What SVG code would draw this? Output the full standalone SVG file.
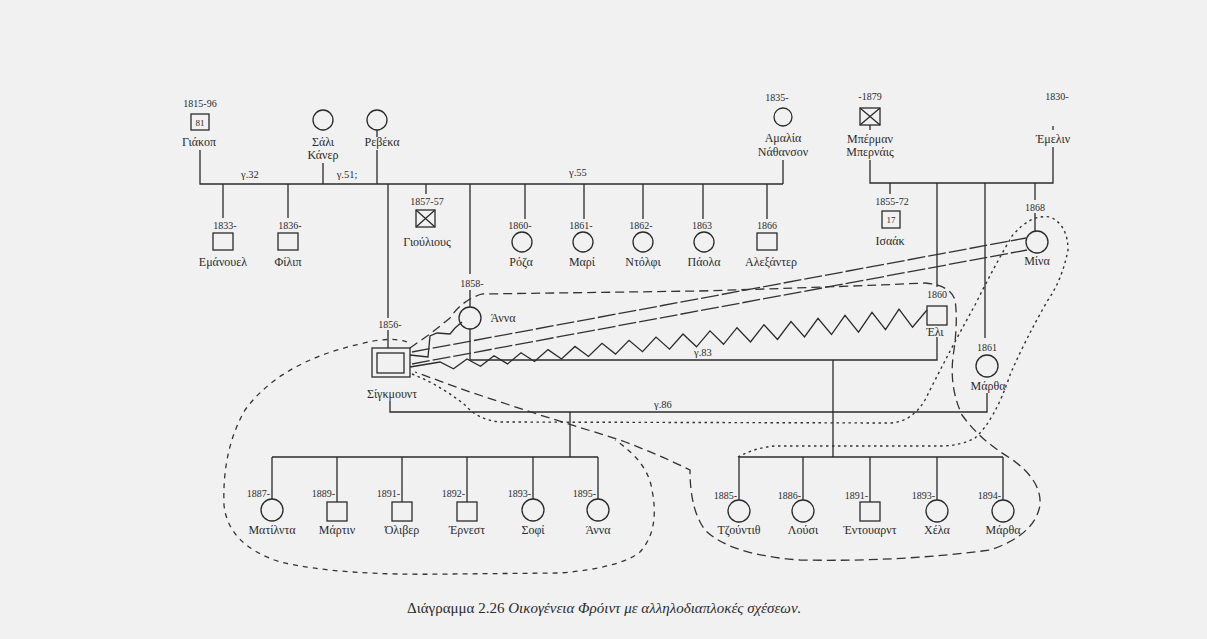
<svg xmlns="http://www.w3.org/2000/svg" width="1207" height="639" viewBox="0 0 1207 639">
<style>
.ln{stroke:#2b2b2b;stroke-width:1.3;fill:none}
.sh{stroke:#2b2b2b;stroke-width:1.3;fill:none}
.t{font-family:"Liberation Serif","DejaVu Serif",serif;font-size:12px;fill:#2b2b2b;text-anchor:middle}
.d{font-family:"Liberation Serif","DejaVu Serif",serif;font-size:10px;fill:#2b2b2b;text-anchor:middle}
.de{font-family:"Liberation Serif","DejaVu Serif",serif;font-size:10px;fill:#2b2b2b;text-anchor:end}
.g{font-family:"Liberation Serif","DejaVu Serif",serif;font-size:10.5px;fill:#2b2b2b;text-anchor:middle}
.dash{stroke:#333;stroke-width:1.3;fill:none;stroke-dasharray:9 5}
.dash2{stroke:#333;stroke-width:1.3;fill:none;stroke-dasharray:5 5}
.dot{stroke:#333;stroke-width:1.4;fill:none;stroke-dasharray:2.5 3.5}
.dbl{stroke:#333;stroke-width:1.3;fill:none;stroke-dasharray:18 3}
</style>
<rect width="1207" height="639" fill="#f1f1f1"/>

<g id="connectors">
<path class="ln" d="M200,150V184H783M323,163V184M377,130V137M377,150V184M783,160V184"/>
<path class="ln" d="M223,184V218M288,184V218M388,184V318M388,330V348M426,184V194M470,184V274M470,290V307M525,184V219M584,184V219M643,184V219M703,184V219M767,184V219"/>
<path class="ln" d="M870,160V183H1053V147M1053,126V130M870,125V130M890,183V194M937,183V287M985,183V338M1035,183V200M1035,213V231"/>
<path class="ln" d="M470,329V360H937V337M833,360V457M739,457H1003M739,457V500M803,457V500M870,457V502M937,457V500M1003,457V500"/>
<path class="ln" d="M390,401V412H987V393M570,412V457M272,457H598M272,457V499M337,457V502M402,457V502M467,457V502M533,457V499M598,457V499"/>
<polyline class="ln" points="410,355 428,357 430,336 437,333 450,334 455,328 462,322"/>
<polyline class="ln" points="410,367 440,362 453.5,368.8 467,358.9 480.5,366.3 494,355.8 507.5,363.9 521,352.7 534.5,361.5 548,349.6 561.5,359 575,346.4 588.5,356.5 602,343.3 615.5,354.1 629,340.3 642.5,351.7 656,337.1 669.5,349.2 683,334 696.5,346.8 710,330.9 723.5,344.3 737,327.7 750.5,341.9 764,324.7 777.5,339.5 791,321.6 804.5,337 818,318.4 831.5,334.5 845,315.3 858.5,332.1 872,312.3 885.5,329.7 899,309.1 912.5,327.2 927,310"/>
<line class="dbl" x1="412" y1="352" x2="1026" y2="238"/>
<line class="dbl" x1="412" y1="364" x2="1027" y2="250"/>
<path class="dash" d="M410,348 L430,334 L450,318 Q462,300 482,294 L700,291 Q800,288 880,285 L925,283 Q950,285 955,300 Q958,320 954,350 Q948,385 962,415 Q980,440 1010,458 Q1042,480 1040,505 Q1035,535 990,550 Q900,562 800,560 Q730,555 705,530 Q690,510 690,470 Q660,455 620,440 L540,415 L470,392 L415,372"/>
<path class="dash2" d="M407,342 Q390,336 360,344 Q280,362 245,410 Q222,450 224,505 Q228,545 280,562 Q340,576 450,574 L560,573 Q620,568 640,552 Q660,530 652,490 Q648,462 615,440"/>
<path class="dot" d="M412,374 Q440,385 465,405 Q478,420 500,422 L890,423 Q912,422 925,400 Q950,350 975,305 Q995,265 1012,236 Q1030,214 1050,217 Q1068,225 1068,250 Q1062,280 1048,300 Q1025,340 1010,375 Q995,420 975,438 Q960,446 940,446 L775,446 Q752,448 735,459"/>
</g>

<g id="marriage-labels">
<text class="g" x="250" y="178">γ.32</text>
<text class="g" x="347" y="178">γ.51;</text>
<text class="g" x="578" y="176">γ.55</text>
<text class="g" x="703" y="356">γ.83</text>
<text class="g" x="663" y="408">γ.86</text>
</g>

<g id="jacob"><text class="d" x="200" y="107">1815-96</text><rect class="sh" x="191" y="114" width="18" height="16"/><text class="d" x="200" y="126" style="font-size:9px">81</text><text class="t" x="199" y="146">Γιάκοπ</text></g>
<g id="sally"><circle class="sh" cx="323" cy="120" r="10"/><text class="t" x="323" y="146">Σάλι</text><text class="t" x="323" y="159">Κάνερ</text></g>
<g id="rebekka"><circle class="sh" cx="377" cy="120" r="10"/><text class="t" x="382" y="146">Ρεβέκα</text></g>
<g id="amalia"><text class="d" x="777" y="101">1835-</text><circle class="sh" cx="783" cy="117" r="9"/><text class="t" x="783" y="142">Αμαλία</text><text class="t" x="783" y="156">Νάθανσον</text></g>
<g id="berman"><text class="d" x="870" y="100">-1879</text><rect class="sh" x="860" y="108" width="20" height="17"/><path class="sh" d="M860,108L880,125M880,108L860,125"/><text class="t" x="870" y="143">Μπέρμαν</text><text class="t" x="870" y="156">Μπερνάις</text></g>
<g id="emmeline"><text class="d" x="1057" y="100">1830-</text><text class="t" x="1053" y="143">Έμελιν</text></g>

<g id="emanuel"><text class="d" x="225" y="229">1833-</text><rect class="sh" x="213" y="233" width="20" height="17"/><text class="t" x="223" y="266">Εμάνουελ</text></g>
<g id="philipp"><text class="d" x="290" y="229">1836-</text><rect class="sh" x="278" y="233" width="20" height="17"/><text class="t" x="288" y="266">Φίλιπ</text></g>
<g id="julius"><text class="d" x="427" y="205">1857-57</text><rect class="sh" x="416" y="210" width="19" height="17"/><path class="sh" d="M416,210L435,227M435,210L416,227"/><text class="t" x="427" y="246">Γιούλιους</text></g>
<g id="rosa"><text class="d" x="520" y="229">1860-</text><circle class="sh" cx="522" cy="242" r="10"/><text class="t" x="521" y="266">Ρόζα</text></g>
<g id="marie"><text class="d" x="581" y="229">1861-</text><circle class="sh" cx="583" cy="242" r="10"/><text class="t" x="582" y="266">Μαρί</text></g>
<g id="dolfi"><text class="d" x="641" y="229">1862-</text><circle class="sh" cx="643" cy="242" r="10"/><text class="t" x="643" y="266">Ντόλφι</text></g>
<g id="paula"><text class="d" x="702" y="229">1863</text><circle class="sh" cx="704" cy="242" r="10"/><text class="t" x="704" y="266">Πάολα</text></g>
<g id="alexander"><text class="d" x="767" y="229">1866</text><rect class="sh" x="757" y="233" width="20" height="17"/><text class="t" x="771" y="266">Αλεξάντερ</text></g>

<g id="isaak"><text class="d" x="892" y="205">1855-72</text><rect class="sh" x="882" y="211" width="18" height="17"/><text class="d" x="891" y="223" style="font-size:9px">17</text><text class="t" x="890" y="245">Ισαάκ</text></g>
<g id="minna"><text class="d" x="1035" y="211">1868</text><circle class="sh" cx="1037" cy="242" r="11"/><text class="t" x="1037" y="265">Μίνα</text></g>
<g id="eli"><text class="d" x="937" y="298">1860</text><rect class="sh" x="927" y="306" width="20" height="19"/><text class="t" x="935" y="336">Έλι</text></g>
<g id="martha"><text class="d" x="987" y="351">1861</text><circle class="sh" cx="987" cy="366" r="11"/><text class="t" x="988" y="390">Μάρθα</text></g>

<g id="anna"><text class="d" x="472" y="287">1858-</text><circle class="sh" cx="470" cy="318" r="11"/><text class="t" x="503" y="322">Άννα</text></g>
<g id="sigmund"><text class="d" x="390" y="328">1856-</text><rect class="sh" x="372" y="348" width="38" height="29"/><rect class="sh" x="377" y="353" width="27" height="20"/><text class="t" x="392" y="398">Σίγκμουντ</text></g>

<g id="mathilde"><text class="de" x="270" y="497">1887-</text><circle class="sh" cx="272" cy="510" r="11"/><text class="t" x="272" y="534">Ματίλντα</text></g>
<g id="martin"><text class="de" x="335" y="497">1889-</text><rect class="sh" x="327" y="502" width="20" height="19"/><text class="t" x="337" y="534">Μάρτιν</text></g>
<g id="oliver"><text class="de" x="400" y="497">1891-</text><rect class="sh" x="392" y="502" width="20" height="19"/><text class="t" x="402" y="534">Όλιβερ</text></g>
<g id="ernst"><text class="de" x="465" y="497">1892-</text><rect class="sh" x="457" y="502" width="20" height="19"/><text class="t" x="467" y="534">Έρνεστ</text></g>
<g id="sophie"><text class="de" x="531" y="497">1893-</text><circle class="sh" cx="533" cy="510" r="11"/><text class="t" x="533" y="534">Σοφί</text></g>
<g id="anna2"><text class="de" x="596" y="497">1895-</text><circle class="sh" cx="598" cy="510" r="11"/><text class="t" x="598" y="534">Άννα</text></g>

<g id="judith"><text class="de" x="737" y="499">1885-</text><circle class="sh" cx="739" cy="511" r="11"/><text class="t" x="739" y="534">Τζούντιθ</text></g>
<g id="lucy"><text class="de" x="801" y="499">1886-</text><circle class="sh" cx="803" cy="511" r="11"/><text class="t" x="803" y="534">Λούσι</text></g>
<g id="edward"><text class="de" x="868" y="499">1891-</text><rect class="sh" x="860" y="502" width="20" height="19"/><text class="t" x="870" y="534">Έντουαρντ</text></g>
<g id="hella"><text class="de" x="935" y="499">1893-</text><circle class="sh" cx="937" cy="511" r="11"/><text class="t" x="937" y="534">Χέλα</text></g>
<g id="martha2"><text class="de" x="1001" y="499">1894-</text><circle class="sh" cx="1003" cy="511" r="11"/><text class="t" x="1003" y="534">Μάρθα</text></g>

<g id="caption"><text x="407" y="613" style="font-family:'Liberation Serif','DejaVu Serif',serif;font-size:15px;fill:#2b2b2b">Διάγραμμα 2.26 <tspan font-style="italic">Οικογένεια Φρόιντ με αλληλοδιαπλοκές σχέσεων.</tspan></text></g>
</svg>
